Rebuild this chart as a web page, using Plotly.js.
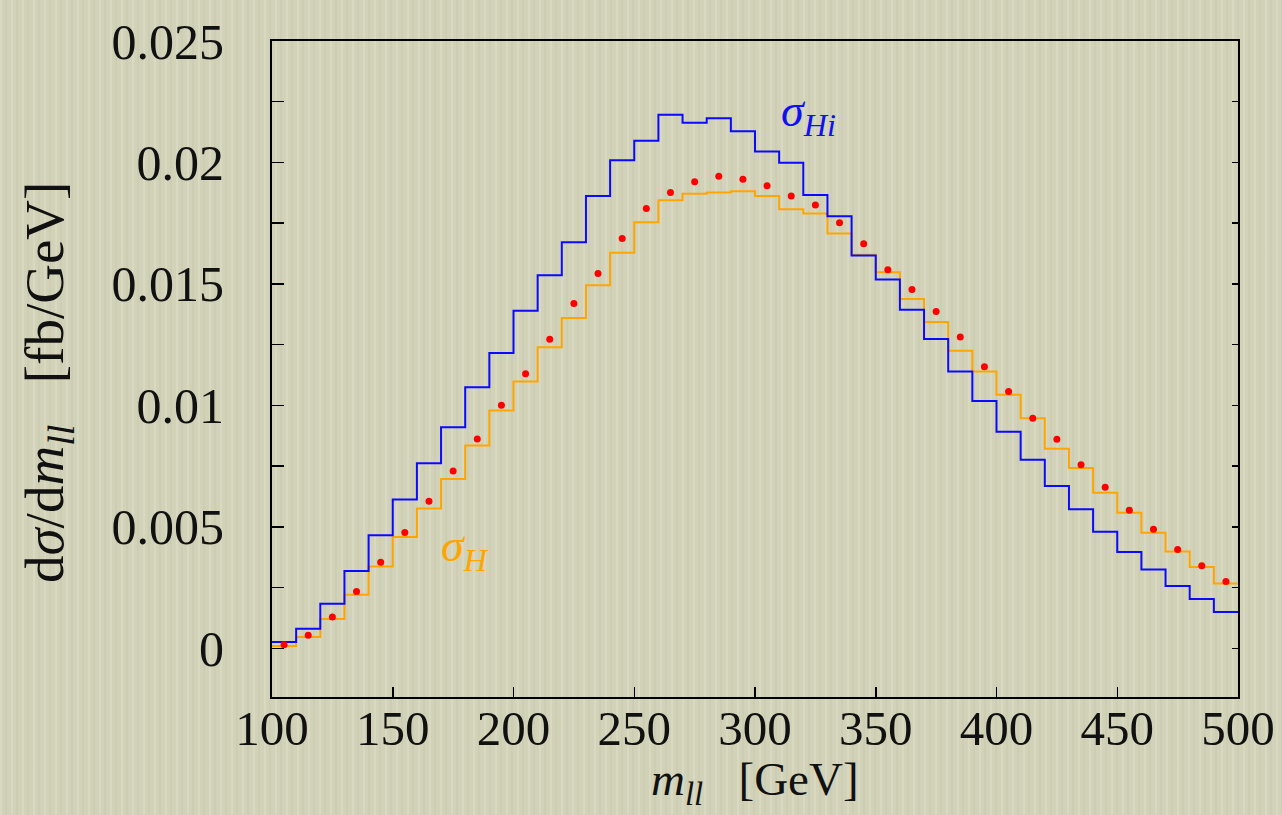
<!DOCTYPE html>
<html>
<head>
<meta charset="utf-8">
<script src="https://cdn.plot.ly/plotly-3.0.1.min.js"></script>
<style>
  html, body { margin: 0; padding: 0; }
  body {
    width: 1282px; height: 815px; overflow: hidden;
    background-color: #d2d2b9;
    background-image:
      repeating-linear-gradient(90deg, rgba(255,255,240,0.16) 0px, rgba(255,255,240,0.16) 2px, rgba(0,0,0,0) 2px, rgba(0,0,0,0) 5px, rgba(150,150,120,0.08) 5px, rgba(150,150,120,0.08) 7px, rgba(0,0,0,0) 7px, rgba(0,0,0,0) 11px);
  }
  #chart { width: 1282px; height: 815px; }
</style>
</head>
<body>
<div id="chart"></div>
<script>
// ---- data ----
const binLow = [100,110,120,130,140,150,160,170,180,190,200,210,220,230,240,250,260,270,280,290,
                300,310,320,330,340,350,360,370,380,390,400,410,420,430,440,450,460,470,480,490];
const binWidth = 10;

// sigma_Hi (blue histogram)
const sigmaHi = [0.00026,0.00081,0.00184,0.00319,0.00466,0.00613,0.00762,0.00910,0.01075,0.01216,
                 0.01390,0.01536,0.01672,0.01862,0.02009,0.02089,0.02196,0.02164,0.02182,0.02129,
                 0.02045,0.01999,0.01866,0.01779,0.01617,0.01518,0.01394,0.01273,0.01140,0.01018,
                 0.00892,0.00776,0.00668,0.00573,0.00480,0.00397,0.00325,0.00257,0.00203,0.00150];

// sigma_H (orange histogram)
const sigmaH = [0.00010,0.00047,0.00121,0.00221,0.00337,0.00459,0.00576,0.00697,0.00835,0.00979,
                0.01099,0.01240,0.01360,0.01495,0.01628,0.01754,0.01845,0.01871,0.01876,0.01882,
                0.01862,0.01807,0.01790,0.01708,0.01620,0.01548,0.01438,0.01343,0.01225,0.01140,
                0.01044,0.00947,0.00822,0.00743,0.00641,0.00558,0.00476,0.00399,0.00335,0.00267];

// red points at bin centres
const redPoints = [0.00015,0.00054,0.00129,0.00234,0.00355,0.00477,0.00606,0.00730,0.00862,0.01001,
                   0.01130,0.01272,0.01420,0.01543,0.01687,0.01811,0.01876,0.01921,0.01943,0.01931,
                   0.01904,0.01862,0.01825,0.01752,0.01665,0.01559,0.01477,0.01387,0.01282,0.01159,
                   0.01057,0.00947,0.00861,0.00756,0.00663,0.00569,0.00490,0.00407,0.00340,0.00275];

const xTickVals = [100,150,200,250,300,350,400,450,500];
const xTickText = ['100','150','200','250','300','350','400','450','500'];
const yTickVals = [0,0.005,0.01,0.015,0.02,0.025];
const yTickText = ['0','0.005','0.01','0.015','0.02','0.025'];

// ---- build ----
const FONT = 'Liberation Serif, DejaVu Serif, serif';
const edges = binLow.concat([binLow[binLow.length-1] + binWidth]);
function stepY(v){ return v.concat([v[v.length-1]]); }
const centres = binLow.map(b => b + binWidth/2);

const traces = [
  { x: edges, y: stepY(sigmaH), mode: 'lines', line: {shape: 'hv', color: '#ffa500', width: 2}, name: 'σ_H', hoverinfo: 'skip' },
  { x: edges, y: stepY(sigmaHi), mode: 'lines', line: {shape: 'hv', color: '#0a0aff', width: 2}, name: 'σ_Hi', hoverinfo: 'skip' },
  { x: centres, y: redPoints, mode: 'markers', marker: {color: '#ff0000', size: 7}, name: 'points', hoverinfo: 'skip' },
  { x: [100], y: [null], yaxis: 'y2', mode: 'markers', showlegend: false, hoverinfo: 'skip' }
];

const layout = {
  width: 1282, height: 815,
  margin: {l: 272, r: 44, t: 41, b: 118},
  paper_bgcolor: 'rgba(0,0,0,0)',
  plot_bgcolor: 'rgba(0,0,0,0)',
  showlegend: false,
  font: {family: FONT, color: '#111', size: 48},
  xaxis: {
    range: [100, 500],
    tickvals: xTickVals, ticktext: xTickText,
    ticks: 'inside', ticklen: 10, tickwidth: 1.5, tickcolor: '#000',
    showline: true, linecolor: '#000', linewidth: 2, mirror: true,
    showgrid: false, zeroline: false,
    tickfont: {family: FONT, size: 49, color: '#111'},
    ticklabelstandoff: -13,
    automargin: false
  },
  yaxis: {
    range: [-0.002, 0.025],
    tickvals: yTickVals, ticktext: yTickText,
    ticks: 'inside', ticklen: 12, tickwidth: 1.5, tickcolor: '#000',
    minor: {dtick: 0.0025, tick0: 0, ticks: 'inside', ticklen: 12, tickwidth: 1.5, tickcolor: '#000'},
    showline: true, linecolor: '#000', linewidth: 2, mirror: true,
    showgrid: false, zeroline: false,
    tickfont: {family: FONT, size: 50, color: '#111'},
    ticklabelstandoff: 36,
    automargin: false
  },
  yaxis2: {
    overlaying: 'y', side: 'right', range: [-0.002, 0.025],
    tickmode: 'linear', tick0: 0, dtick: 0.0025,
    ticks: 'inside', ticklen: 6, tickwidth: 1.5, tickcolor: '#000',
    showticklabels: false, showgrid: false, zeroline: false, showline: false
  },
  annotations: [
    {x: 0.5, y: -0.131, xref: 'paper', yref: 'paper', xanchor: 'center', yanchor: 'middle', showarrow: false,
     text: '<i>m</i><sub><i>ll</i></sub>   [GeV]', font: {family: FONT, size: 47, color: '#111'}},
    {x: -0.232, y: 0.48, xref: 'paper', yref: 'paper', xanchor: 'center', yanchor: 'middle', showarrow: false,
     textangle: -90,
     text: 'd<i>σ</i>/d<i>m</i><sub><i>ll</i></sub>   [fb/GeV]', font: {family: FONT, size: 55, color: '#111'}},
    {x: 310, y: 0.0220, xref: 'x', yref: 'y', xanchor: 'left', yanchor: 'middle', showarrow: false,
     text: '<i>σ</i><sub><i>Hi</i></sub>', font: {family: FONT, size: 46, color: '#1010f0'}},
    {x: 169, y: 0.0041, xref: 'x', yref: 'y', xanchor: 'left', yanchor: 'middle', showarrow: false,
     text: '<i>σ</i><sub><i>H</i></sub>', font: {family: FONT, size: 46, color: '#ffa500'}}
  ]
};

Plotly.newPlot('chart', traces, layout, {staticPlot: true, displayModeBar: false});
</script>
</body>
</html>
